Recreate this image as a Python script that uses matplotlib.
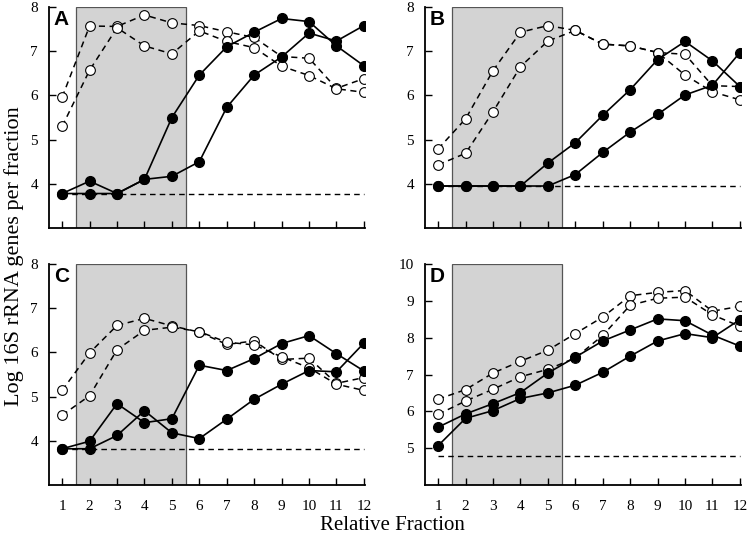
import numpy as np
import matplotlib
matplotlib.use("Agg")
import matplotlib.pyplot as plt

plt.rcParams["font.family"] = ["Liberation Serif", "DejaVu Serif"]

fractions = list(range(1, 13))

# panel A
a_filled1 = [3.78, 4.06, 3.78, 4.10, 5.50, 6.46, 7.10, 7.43, 7.74, 7.67, 7.12, 6.67]
a_filled2 = [3.78, 3.78, 3.78, 4.10, 4.17, 4.50, 5.73, 6.46, 6.87, 7.41, 7.23, 7.58]
a_open1 = [5.96, 7.57, 7.56, 7.82, 7.64, 7.58, 7.44, 7.31, 6.88, 6.84, 6.16, 6.38]
a_open2 = [5.30, 6.57, 7.53, 7.12, 6.94, 7.46, 7.22, 7.08, 6.66, 6.45, 6.15, 6.07]
a_limit = 3.78

# panel B
b_filled1 = [3.95, 3.95, 3.95, 3.95, 4.47, 4.93, 5.55, 6.13, 6.81, 7.22, 6.78, 6.20]
b_filled2 = [3.95, 3.95, 3.95, 3.95, 3.95, 4.21, 4.71, 5.17, 5.57, 6.01, 6.23, 6.97]
b_open1 = [4.79, 5.47, 6.56, 7.43, 7.58, 7.47, 7.16, 7.12, 6.97, 6.93, 6.22, 6.20]
b_open2 = [4.43, 4.69, 5.63, 6.65, 7.23, 7.47, 7.16, 7.12, 6.97, 6.46, 6.08, 5.90]
b_limit = 3.94

# panel C
c_filled1 = [3.82, 3.99, 4.84, 4.41, 4.50, 5.71, 5.59, 5.86, 6.20, 6.38, 5.97, 5.58]
c_filled2 = [3.82, 3.82, 4.12, 4.68, 4.18, 4.05, 4.49, 4.94, 5.28, 5.59, 5.56, 6.21]
c_open1 = [5.14, 5.99, 6.61, 6.77, 6.60, 6.46, 6.18, 6.26, 5.84, 5.87, 5.30, 5.43]
c_open2 = [4.58, 5.02, 6.06, 6.50, 6.57, 6.47, 6.23, 6.17, 5.90, 5.65, 5.28, 5.14]
c_limit = 3.82

# panel D
d_filled1 = [5.57, 5.93, 6.21, 6.51, 7.04, 7.47, 7.91, 8.21, 8.51, 8.46, 8.07, 7.77]
d_filled2 = [5.07, 5.81, 6.02, 6.35, 6.50, 6.71, 7.06, 7.50, 7.91, 8.11, 8.00, 8.49]
d_open1 = [6.33, 6.59, 7.04, 7.36, 7.66, 8.11, 8.56, 9.14, 9.23, 9.28, 8.72, 8.85]
d_open2 = [5.92, 6.28, 6.60, 6.94, 7.14, 7.45, 8.06, 8.88, 9.07, 9.10, 8.62, 8.31]
d_limit = 4.78

panels = [
    ("A", a_filled1, a_filled2, a_open1, a_open2, a_limit, (3, 8), [4, 5, 6, 7, 8]),
    ("B", b_filled1, b_filled2, b_open1, b_open2, b_limit, (3, 8), [4, 5, 6, 7, 8]),
    ("C", c_filled1, c_filled2, c_open1, c_open2, c_limit, (3, 8), [4, 5, 6, 7, 8]),
    ("D", d_filled1, d_filled2, d_open1, d_open2, d_limit, (4, 10), [5, 6, 7, 8, 9, 10]),
]

fig = plt.figure(figsize=(7.5, 5.37), dpi=100)
W, H = 750.0, 537.0
# left, top in pixels for each panel
boxes = [(49, 7), (425, 7), (49, 264), (425, 264)]
aw, ah = 316, 221

for (label, f1, f2, o1, o2, limit, ylim, yticks), (lx, ty) in zip(panels, boxes):
    ax = fig.add_axes([lx / W, 1 - (ty + ah) / H, aw / W, ah / H])
    ax.axvspan(1.5, 5.5, facecolor="#d3d3d3", edgecolor="#555555", linewidth=0.9, zorder=0)
    ax.plot([1, 12], [limit, limit], color="black", linestyle=(0, (4, 3)), linewidth=1.0, zorder=1)

    for ys in (o1, o2):
        ax.plot(fractions, ys, color="black", linestyle=(0, (4, 3)), linewidth=1.1,
                marker="o", markersize=7, markerfacecolor="white",
                markeredgecolor="black", markeredgewidth=0.8, zorder=2)
    for ys in (f1, f2):
        ax.plot(fractions, ys, color="black", linestyle="-", linewidth=1.2,
                marker="o", markersize=7, markerfacecolor="black",
                markeredgecolor="black", zorder=3)

    ax.set_xlim(0.52, 12.04)
    ax.set_ylim(*ylim)
    ax.set_xticks(fractions)
    ax.set_yticks(yticks)
    ax.spines["top"].set_visible(False)
    ax.spines["right"].set_visible(False)
    ax.spines["left"].set_linewidth(1.3)
    ax.spines["bottom"].set_linewidth(1.3)
    ax.tick_params(direction="in", length=5, width=1.0, labelsize=11)
    ax.tick_params(axis="x", pad=11)
    ax.tick_params(axis="y", pad=8)
    if label in ("A", "B"):
        ax.tick_params(axis="x", labelbottom=False)
    ax.text(0.015, 0.985, label, transform=ax.transAxes, ha="left", va="top",
            fontsize=15, fontweight="bold", family=["Liberation Sans", "DejaVu Sans"])

fig.text(14 / W, 1 - 256 / H, "Log 16S rRNA genes per fraction", rotation=90,
         ha="center", va="center", fontsize=16)
fig.text(392 / W, 1 - 525 / H, "Relative Fraction", ha="center", va="center", fontsize=15)

fig.savefig("out.png", dpi=100)
